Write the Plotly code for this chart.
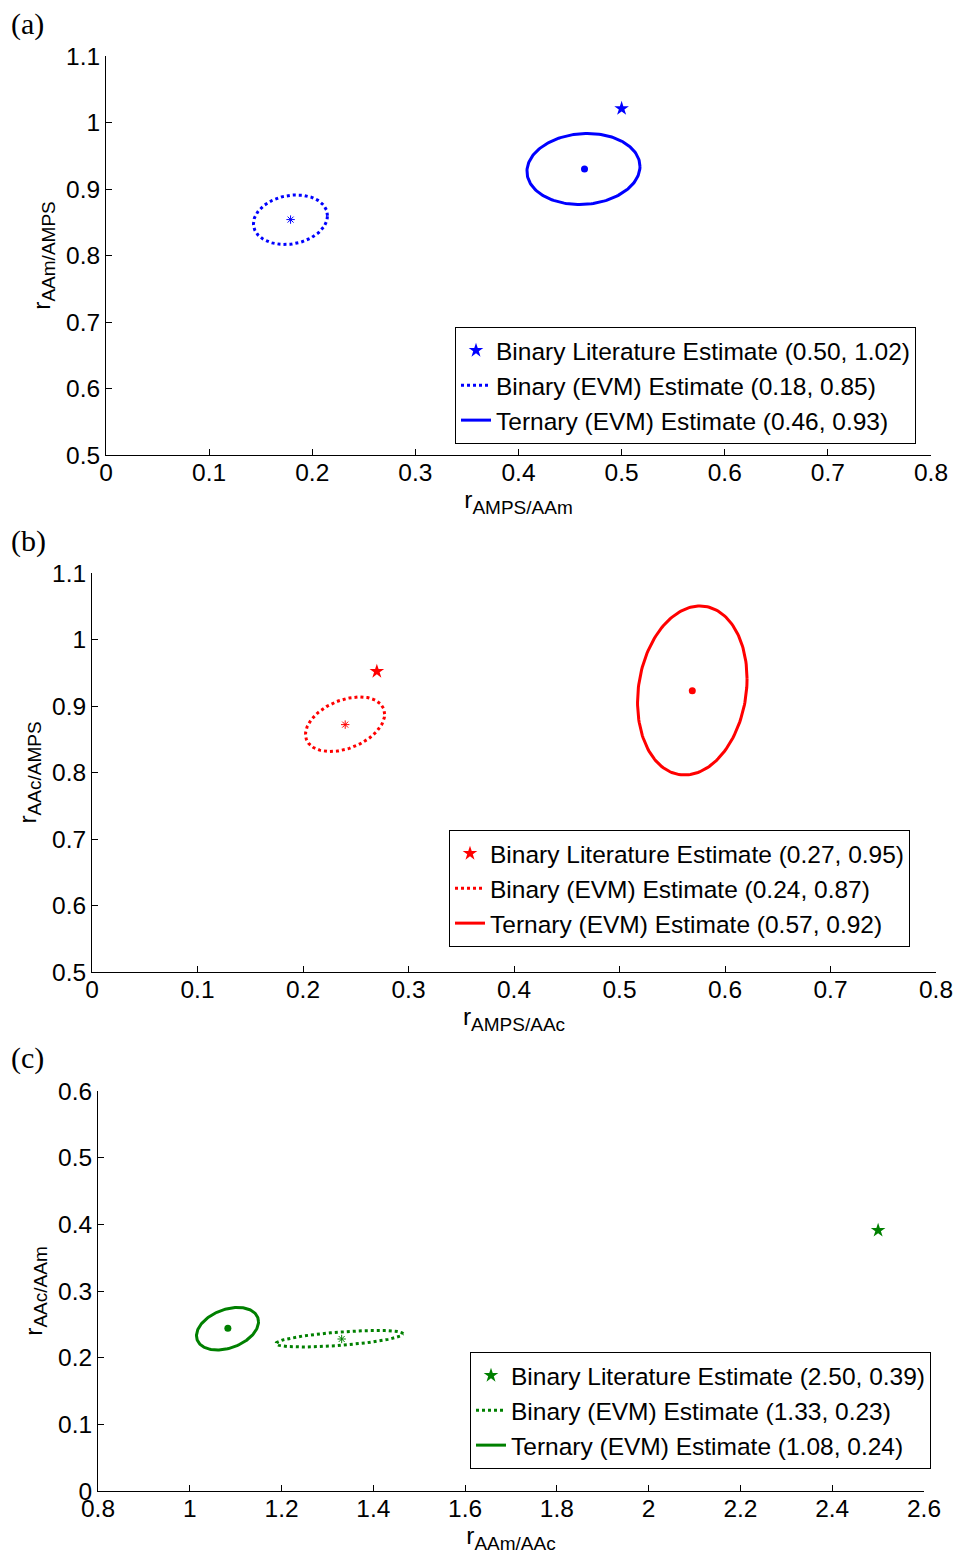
import numpy as np
import plotly.graph_objects as go

# ---------------- DATA ----------------
# Each ellipse is described by values:
# [centre x, centre y, half x-extent, half y-extent, tilt (correlation)]
# Panel (a): r_AMPS/AAm (x) vs r_AAm/AMPS (y)
a_lit = [0.50, 1.021]
a_bin_center = [0.179, 0.854]
a_ter_center = [0.464, 0.930]
a_bin_ellipse = [0.1789, 0.8538, 0.0359, 0.0373, 0.16]
a_ter_ellipse = [0.4630, 0.9301, 0.0548, 0.0534, 0.07]
a_names = ["Binary Literature Estimate (0.50, 1.02)",
           "Binary (EVM) Estimate (0.18, 0.85)",
           "Ternary (EVM) Estimate (0.46, 0.93)"]
a_xticks = [0, 0.1, 0.2, 0.3, 0.4, 0.5, 0.6, 0.7, 0.8]
a_xlabels = ["0", "0.1", "0.2", "0.3", "0.4", "0.5", "0.6", "0.7", "0.8"]
a_yticks = [0.5, 0.6, 0.7, 0.8, 0.9, 1.0, 1.1]
a_ylabels = ["0.5", "0.6", "0.7", "0.8", "0.9", "1", "1.1"]

# Panel (b): r_AMPS/AAc (x) vs r_AAc/AMPS (y)
b_lit = [0.270, 0.952]
b_bin_center = [0.240, 0.872]
b_ter_center = [0.569, 0.923]
b_bin_ellipse = [0.2399, 0.8726, 0.0375, 0.0410, 0.37]
b_ter_ellipse = [0.5690, 0.9233, 0.0519, 0.1271, 0.14]
b_names = ["Binary Literature Estimate (0.27, 0.95)",
           "Binary (EVM) Estimate (0.24, 0.87)",
           "Ternary (EVM) Estimate (0.57, 0.92)"]
b_xticks = [0, 0.1, 0.2, 0.3, 0.4, 0.5, 0.6, 0.7, 0.8]
b_xlabels = ["0", "0.1", "0.2", "0.3", "0.4", "0.5", "0.6", "0.7", "0.8"]
b_yticks = [0.5, 0.6, 0.7, 0.8, 0.9, 1.0, 1.1]
b_ylabels = ["0.5", "0.6", "0.7", "0.8", "0.9", "1", "1.1"]

# Panel (c): r_AAm/AAc (x) vs r_AAc/AAm (y)
c_lit = [2.50, 0.391]
c_bin_center = [1.331, 0.228]
c_ter_center = [1.083, 0.244]
c_bin_ellipse = [1.3263, 0.2284, 0.1384, 0.0124, 0.58]
c_ter_ellipse = [1.0822, 0.2434, 0.0676, 0.0319, 0.33]
c_names = ["Binary Literature Estimate (2.50, 0.39)",
           "Binary (EVM) Estimate (1.33, 0.23)",
           "Ternary (EVM) Estimate (1.08, 0.24)"]
c_xticks = [0.8, 1.0, 1.2, 1.4, 1.6, 1.8, 2.0, 2.2, 2.4, 2.6]
c_xlabels = ["0.8", "1", "1.2", "1.4", "1.6", "1.8", "2", "2.2", "2.4", "2.6"]
c_yticks = [0, 0.1, 0.2, 0.3, 0.4, 0.5, 0.6]
c_ylabels = ["0", "0.1", "0.2", "0.3", "0.4", "0.5", "0.6"]


def ellipse_outline(params, n=181):
    cx, cy, sx, sy, rho = params
    t = np.linspace(0, 2 * np.pi, n)
    x = cx + sx * np.cos(t)
    y = cy + sy * (rho * np.cos(t) + np.sqrt(1 - rho ** 2) * np.sin(t))
    return x, y


# ---------------- FIGURE ----------------
FONT = "Liberation Sans, Arial, sans-serif"
FS = 24.5
W, H = 956, 1557

fig = go.Figure()

panels = [
    dict(lit=a_lit, bc=a_bin_center, tc=a_ter_center, be=a_bin_ellipse, te=a_ter_ellipse,
         names=a_names, color="#0000FF", xa="x", ya="y", leg="legend"),
    dict(lit=b_lit, bc=b_bin_center, tc=b_ter_center, be=b_bin_ellipse, te=b_ter_ellipse,
         names=b_names, color="#FF0000", xa="x2", ya="y2", leg="legend2"),
    dict(lit=c_lit, bc=c_bin_center, tc=c_ter_center, be=c_bin_ellipse, te=c_ter_ellipse,
         names=c_names, color="#008000", xa="x3", ya="y3", leg="legend3"),
]

for p in panels:
    col = p["color"]
    bx, by = ellipse_outline(p["be"])
    tx, ty = ellipse_outline(p["te"])
    fig.add_trace(go.Scatter(x=[p["lit"][0]], y=[p["lit"][1]], mode="markers",
                             marker=dict(symbol="star", size=11, color=col, line=dict(width=0)),
                             name=p["names"][0], xaxis=p["xa"], yaxis=p["ya"], legend=p["leg"]))
    fig.add_trace(go.Scatter(x=bx, y=by, mode="lines",
                             line=dict(color=col, width=3, dash="dot"),
                             name=p["names"][1], xaxis=p["xa"], yaxis=p["ya"], legend=p["leg"]))
    fig.add_trace(go.Scatter(x=tx, y=ty, mode="lines",
                             line=dict(color=col, width=3),
                             name=p["names"][2], xaxis=p["xa"], yaxis=p["ya"], legend=p["leg"]))
    fig.add_trace(go.Scatter(x=[p["bc"][0]], y=[p["bc"][1]], mode="markers",
                             marker=dict(symbol="asterisk-open", size=7, color=col,
                                         line=dict(color=col, width=1)),
                             showlegend=False, xaxis=p["xa"], yaxis=p["ya"], hoverinfo="skip"))
    fig.add_trace(go.Scatter(x=[p["tc"][0]], y=[p["tc"][1]], mode="markers",
                             marker=dict(symbol="circle", size=7, color=col),
                             showlegend=False, xaxis=p["xa"], yaxis=p["ya"], hoverinfo="skip"))


def sub_title(main, sub):
    return f"{main}<sub><span style='font-size:19px'>{sub}</span></sub>"


def ax(domain, rng, tv, tt, title, anchor, standoff, lab_off=0):
    return dict(domain=domain, range=rng, tickvals=tv, ticktext=tt, anchor=anchor,
                showline=True, linecolor="#000000", linewidth=1, mirror=False,
                ticks="inside", ticklen=6, tickcolor="#000000", tickwidth=1,
                ticklabelstandoff=lab_off,
                showgrid=False, zeroline=False, automargin=False,
                tickfont=dict(family=FONT, size=FS, color="#000000"),
                title=dict(text=title, font=dict(family=FONT, size=FS, color="#000000"),
                           standoff=standoff),
                fixedrange=True)


def px_x(p):
    return p / W


def px_y(p):
    return 1 - p / H


layout = dict(
    width=W, height=H, margin=dict(l=0, r=0, t=0, b=0, pad=0, autoexpand=False),
    paper_bgcolor="white", plot_bgcolor="white", autosize=False,
    font=dict(family=FONT, size=FS, color="#000000"),
    xaxis=ax([px_x(106), px_x(931)], [0, 0.8], a_xticks, a_xlabels,
             sub_title("r", "AMPS/AAm"), "y", 2, -4),
    yaxis=ax([px_y(455), px_y(56)], [0.5, 1.1], a_yticks, a_ylabels,
             sub_title("r", "AAm/AMPS"), "x", 8),
    xaxis2=ax([px_x(92), px_x(936)], [0, 0.8], b_xticks, b_xlabels,
              sub_title("r", "AMPS/AAc"), "y2", 2, -4),
    yaxis2=ax([px_y(972), px_y(573)], [0.5, 1.1], b_yticks, b_ylabels,
              sub_title("r", "AAc/AMPS"), "x2", 8),
    xaxis3=ax([px_x(98), px_x(924)], [0.8, 2.6], c_xticks, c_xlabels,
              sub_title("r", "AAm/AAc"), "y3", 2, -4),
    yaxis3=ax([px_y(1491), px_y(1091)], [0, 0.6], c_yticks, c_ylabels,
              sub_title("r", "AAc/AAm"), "x3", 8),
)

legend_style = dict(bordercolor="#000000", borderwidth=1, bgcolor="white",
                    font=dict(family=FONT, size=FS, color="#000000"),
                    xanchor="left", yanchor="top", itemwidth=30, tracegroupgap=0)
layout["legend"] = dict(x=px_x(455), y=px_y(327), **legend_style)
layout["legend2"] = dict(x=px_x(449), y=px_y(830), **legend_style)
layout["legend3"] = dict(x=px_x(470), y=px_y(1352), **legend_style)

panel_labels = ["(a)", "(b)", "(c)"]
panel_label_y = [24, 541, 1058]
layout["annotations"] = [
    dict(text=lab, x=px_x(9), y=px_y(yy), xref="paper", yref="paper", xanchor="left",
         yanchor="middle", showarrow=False,
         font=dict(family="Liberation Serif, Times New Roman, serif", size=30, color="#000000"))
    for lab, yy in zip(panel_labels, panel_label_y)
]

fig.update_layout(**layout)
fig.write_html("out.html",
               post_script="document.body.style.margin='0';document.body.style.overflow='hidden';")
